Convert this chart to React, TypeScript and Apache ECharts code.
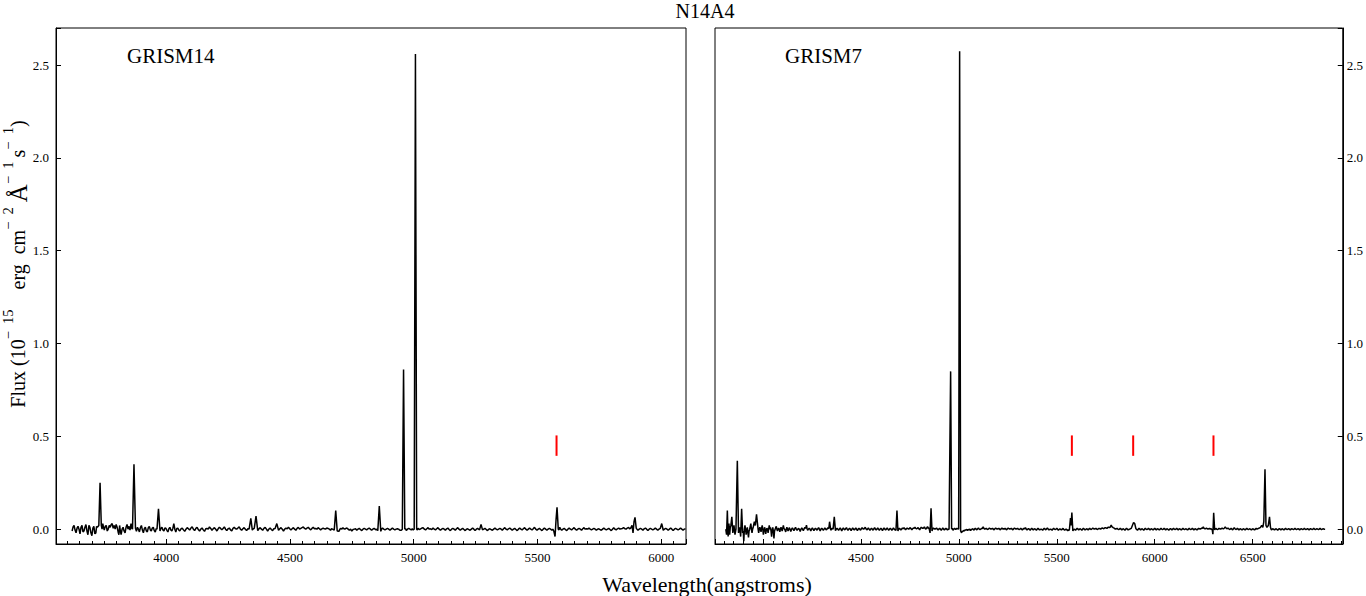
import React, { useEffect, useRef } from "react";
import * as echarts from "echarts";

const FONT = '"Liberation Serif", "Times New Roman", Times, serif';

const titleText = "N14A4";
const panelNames = ["GRISM14", "GRISM7"];
const xAxisTitle = "Wavelength(angstroms)";

const xRanges = [
  [3555, 6100],
  [3755, 6960],
];
const yRange = [-0.08, 2.7];
const xStep = 500;
const yStep = 0.5;

// GRISM14 spectrum  [wavelength (Å), flux (1e-15 erg cm^-2 Å^-1 s^-1)]
const g14Blue = [
  [3620, -0.01], [3624, 0.012], [3628, 0.02], [3632, -0.005], [3636, -0.02], [3640, 0.005],
  [3644, 0.015], [3648, 0.0], [3652, -0.025], [3656, 0.01], [3660, 0.02], [3664, -0.015],
  [3668, -0.01], [3672, 0.01], [3676, 0.025], [3680, -0.01], [3684, -0.03], [3688, 0.02],
  [3692, 0.01], [3696, -0.02], [3700, -0.035], [3704, 0.005], [3708, 0.015], [3712, -0.025],
  [3716, -0.02], [3719, 0.015], [3722, 0.01], [3728, 0.02], [3733, 0.25], [3738, 0.02],
  [3741, 0.0], [3744, 0.03], [3747, 0.01], [3750, -0.005], [3754, 0.015], [3758, 0.02],
  [3762, -0.01], [3766, 0.0], [3770, 0.02], [3774, 0.01], [3778, 0.025], [3782, 0.03],
  [3786, 0.005], [3790, 0.02], [3794, 0.0], [3798, 0.025], [3802, 0.01], [3806, -0.015],
  [3809, -0.03], [3812, 0.02], [3815, -0.01], [3818, -0.03], [3822, 0.0], [3826, 0.01],
  [3830, -0.01], [3834, -0.02], [3838, 0.01], [3842, 0.025], [3846, 0.0], [3850, 0.015],
  [3854, -0.005], [3858, 0.03], [3861, 0.005], [3864, 0.0], [3870, 0.35], [3876, 0.005],
  [3880, -0.012], [3884, 0.01], [3888, 0.0], [3892, -0.015], [3896, 0.008], [3900, 0.02],
  [3904, -0.005], [3908, -0.02], [3912, 0.004], [3916, 0.01], [3920, -0.01], [3924, -0.015],
  [3928, 0.008], [3932, 0.015], [3936, -0.004], [3940, -0.01], [3944, 0.006], [3948, 0.01],
  [3952, -0.008], [3956, -0.015], [3960, 0.004], [3963, 0.0], [3969, 0.11], [3975, -0.01],
  [3979, 0.004], [3983, 0.01], [3987, -0.004], [3991, -0.01], [3995, 0.006], [3999, 0.005],
  [4003, -0.006], [4007, -0.015], [4011, 0.002], [4015, 0.01], [4019, -0.004], [4023, -0.01],
  [4027, 0.004], [4031, 0.03], [4035, 0.0], [4039, -0.015], [4043, 0.004], [4047, 0.005],
];
const g14Mid = [
  [4051, -0.004], [4055, -0.01], [4060, 0.002], [4065, 0.005], [4070, -0.004], [4075, -0.012],
  [4080, 0.0], [4085, 0.008], [4090, 0.002], [4095, -0.005], [4100, 0.006], [4105, 0.012],
  [4110, 0.0], [4115, -0.008], [4120, 0.004], [4125, 0.01], [4130, -0.002], [4135, -0.01],
  [4140, 0.0], [4145, 0.006], [4150, -0.004], [4155, -0.012], [4160, 0.002], [4165, 0.004],
  [4170, 0.0], [4175, 0.012], [4180, 0.004], [4185, -0.006], [4190, 0.002], [4195, 0.008],
  [4200, 0.0], [4205, -0.01], [4210, 0.002], [4215, 0.01], [4220, 0.004], [4225, -0.004],
  [4230, 0.004], [4235, 0.012], [4240, 0.0], [4245, -0.008], [4250, 0.002], [4255, 0.006],
  [4260, -0.004], [4265, -0.01], [4270, 0.004], [4275, 0.01], [4280, 0.002], [4285, 0.0],
  [4290, 0.006], [4295, 0.012], [4300, 0.0], [4305, -0.006], [4310, 0.002], [4315, 0.008],
  [4320, 0.0], [4325, -0.008], [4330, 0.002], [4335, 0.0], [4342, 0.058], [4348, -0.005],
  [4352, 0.002], [4356, 0.005], [4363, 0.07], [4370, -0.008], [4375, 0.002], [4380, 0.008],
  [4385, 0.0], [4390, -0.006], [4395, 0.004], [4400, 0.01], [4405, 0.0], [4410, -0.01],
  [4415, 0.0], [4420, 0.006], [4425, -0.002], [4430, -0.008], [4435, 0.002], [4440, 0.004],
  [4447, 0.03], [4454, -0.006], [4459, 0.002], [4464, 0.008], [4469, 0.0], [4474, -0.01],
  [4479, 0.0], [4484, 0.006], [4489, 0.002], [4494, 0.01], [4499, 0.002], [4504, -0.004],
  [4509, 0.002], [4514, 0.008], [4519, 0.0], [4524, -0.006], [4529, 0.004], [4534, 0.01],
  [4539, 0.0], [4544, 0.004], [4549, 0.008], [4554, 0.012], [4559, 0.004], [4564, 0.0],
  [4569, 0.006], [4574, 0.01], [4579, 0.002], [4584, -0.004], [4589, 0.004], [4594, 0.01],
  [4599, 0.002], [4604, 0.004], [4609, 0.0], [4614, 0.008], [4619, 0.002], [4624, -0.004],
  [4629, 0.002], [4634, 0.006], [4639, 0.002], [4644, 0.0], [4649, 0.006], [4654, 0.004],
  [4659, 0.0], [4664, -0.006], [4668, 0.002], [4672, 0.0], [4679, -0.005], [4685, 0.1],
  [4691, -0.01], [4698, -0.012], [4702, 0.0], [4706, 0.004], [4710, 0.0], [4714, 0.008],
  [4718, 0.002], [4722, 0.0], [4726, 0.004], [4730, 0.006], [4735, 0.0], [4740, -0.006],
  [4745, 0.0], [4750, -0.01], [4755, -0.002], [4760, 0.0], [4765, 0.002], [4770, -0.006],
  [4775, 0.0], [4780, 0.004], [4785, -0.002], [4790, -0.008], [4795, 0.0], [4800, 0.004],
  [4805, 0.0], [4810, -0.004], [4815, 0.002], [4820, 0.006], [4825, 0.0], [4830, -0.006],
  [4835, 0.0], [4840, 0.004], [4844, 0.0], [4848, -0.004], [4852, 0.0], [4855, -0.008],
  [4861, 0.124], [4867, -0.012], [4870, 0.0], [4874, 0.006], [4879, 0.0], [4884, -0.004],
  [4889, 0.0], [4894, 0.004], [4899, 0.0], [4904, -0.006], [4909, 0.0], [4914, 0.006],
  [4919, 0.0], [4924, -0.004], [4929, 0.0], [4934, 0.002], [4939, 0.0], [4944, -0.006],
  [4950, -0.006], [4954, 0.0], [4959, 0.86], [4964, 0.0], [4967, 0.004], [4970, -0.008],
  [4975, 0.0], [4980, 0.004], [4985, 0.0], [4990, -0.004], [4994, 0.002], [4998, -0.004],
  [5002, 0.0], [5007, 2.56], [5012, 0.0], [5015, -0.004], [5018, 0.004], [5023, -0.002],
  [5028, 0.002], [5033, 0.006], [5038, 0.008], [5043, 0.0], [5048, -0.004],
];
const g14Red = [
  [5053, 0.002], [5058, 0.008], [5063, 0.0], [5068, 0.002], [5073, -0.002], [5078, 0.006],
  [5083, 0.0], [5088, -0.004], [5093, 0.002], [5098, 0.008], [5103, 0.0], [5108, -0.006],
  [5113, 0.0], [5118, 0.004], [5123, 0.0], [5128, -0.006], [5133, 0.002], [5138, 0.006],
  [5143, -0.002], [5148, -0.008], [5153, 0.0], [5158, 0.004], [5163, 0.0], [5168, -0.006],
  [5173, 0.002], [5178, 0.008], [5183, 0.0], [5188, -0.006], [5193, 0.0], [5198, 0.004],
  [5203, -0.002], [5208, -0.008], [5213, 0.0], [5218, 0.002], [5223, -0.002], [5228, -0.006],
  [5233, 0.0], [5238, 0.006], [5243, 0.0], [5248, -0.008], [5253, 0.0], [5258, 0.004],
  [5262, 0.0], [5266, -0.004], [5272, 0.026], [5278, -0.004], [5283, 0.0], [5288, 0.004],
  [5293, -0.002], [5298, -0.008], [5303, 0.0], [5308, 0.002], [5313, -0.002], [5318, -0.006],
  [5323, 0.0], [5328, 0.006], [5333, 0.0], [5338, -0.004], [5343, 0.0], [5348, 0.004],
  [5353, 0.0], [5358, -0.006], [5363, 0.002], [5368, 0.008], [5373, 0.0], [5378, -0.004],
  [5383, 0.002], [5388, 0.006], [5393, 0.0], [5398, -0.006], [5403, 0.0], [5408, 0.004],
  [5413, -0.002], [5418, -0.008], [5423, 0.0], [5428, 0.006], [5433, 0.0], [5438, -0.004],
  [5443, 0.002], [5448, 0.008], [5453, 0.0], [5458, -0.006], [5463, 0.0], [5468, 0.006],
  [5473, 0.0], [5478, -0.004], [5483, 0.002], [5488, 0.01], [5493, 0.0], [5498, -0.006],
  [5503, 0.0], [5508, 0.004], [5513, -0.002], [5518, -0.008], [5523, 0.0], [5528, 0.006],
  [5533, 0.0], [5538, -0.006], [5543, 0.0], [5548, 0.004], [5553, 0.0], [5558, -0.006],
  [5562, 0.0], [5566, -0.01], [5571, -0.04], [5575, 0.05], [5579, 0.118], [5584, 0.0],
  [5587, -0.004], [5590, 0.01], [5594, 0.0], [5598, -0.006], [5603, 0.0], [5608, 0.004],
  [5613, -0.002], [5618, -0.008], [5623, 0.0], [5628, 0.006], [5633, 0.0], [5638, -0.004],
  [5643, 0.002], [5648, 0.008], [5653, 0.0], [5658, -0.006], [5663, 0.0], [5668, 0.004],
  [5673, 0.0], [5678, -0.006], [5683, 0.002], [5688, 0.008], [5693, 0.0], [5698, 0.002],
  [5703, 0.0], [5708, 0.006], [5713, 0.0], [5718, -0.004], [5723, 0.0], [5728, 0.004],
  [5733, 0.0], [5738, -0.006], [5743, 0.0], [5748, 0.002], [5753, -0.002], [5758, -0.006],
  [5763, 0.0], [5768, 0.006], [5773, 0.0], [5778, -0.004], [5783, 0.0], [5788, 0.004],
  [5793, -0.002], [5798, -0.008], [5803, 0.0], [5808, 0.008], [5813, 0.0], [5818, -0.004],
  [5823, 0.002], [5828, 0.006], [5833, 0.0], [5838, 0.002], [5843, 0.004], [5848, 0.008],
  [5853, 0.002], [5858, 0.0], [5863, 0.006], [5868, 0.01], [5872, 0.002], [5876, 0.004],
  [5882, 0.02], [5886, -0.02], [5890, 0.04], [5894, 0.063], [5899, 0.005], [5902, 0.0],
  [5906, -0.006], [5911, 0.0], [5916, 0.004], [5921, 0.0], [5926, -0.006], [5931, 0.002],
  [5936, 0.006], [5941, 0.0], [5946, -0.008], [5951, 0.0], [5956, 0.004], [5961, 0.0],
  [5966, -0.004], [5971, 0.0], [5976, 0.006], [5981, 0.0], [5986, -0.006], [5991, 0.0],
  [5996, 0.004], [6002, 0.03], [6008, -0.006], [6013, 0.0], [6018, 0.004], [6023, 0.0],
  [6028, -0.006], [6033, 0.0], [6038, 0.006], [6043, 0.0], [6048, -0.008], [6053, 0.0],
  [6058, 0.004], [6063, 0.0], [6068, -0.004], [6073, 0.0], [6078, 0.006], [6083, 0.0],
  [6088, -0.006], [6093, 0.0], [6098, 0.002],
];

// GRISM7 spectrum
const g7Blue = [
  [3810, 0.0], [3814, -0.03], [3818, 0.1], [3822, -0.04], [3826, 0.03], [3830, -0.03],
  [3833, 0.01], [3836, 0.02], [3841, 0.066], [3846, -0.02], [3849, 0.0], [3852, 0.02],
  [3857, -0.03], [3862, 0.0], [3869, 0.368], [3875, -0.02], [3880, 0.01], [3883, -0.01],
  [3886, -0.04], [3891, 0.11], [3896, -0.02], [3899, -0.01], [3902, -0.065], [3905, 0.0],
  [3908, 0.02], [3911, 0.0], [3914, -0.03], [3917, -0.005], [3920, 0.01], [3923, -0.02],
  [3926, -0.045], [3929, -0.01], [3932, 0.0], [3935, 0.015], [3938, 0.03], [3941, 0.0],
  [3944, -0.02], [3947, 0.0], [3950, 0.01], [3953, 0.025], [3956, 0.04], [3961, 0.02],
  [3967, 0.08], [3972, 0.03], [3975, 0.0], [3978, -0.02], [3981, 0.0], [3984, 0.01],
  [3987, 0.0], [3990, -0.015], [3993, 0.005], [3996, 0.02], [3999, 0.0], [4002, -0.03],
  [4005, -0.01], [4008, 0.01], [4011, 0.0], [4014, -0.025], [4017, -0.005], [4020, 0.005],
  [4023, 0.0], [4026, -0.02], [4029, 0.0], [4032, 0.02], [4035, 0.0], [4038, 0.01],
  [4041, -0.01], [4044, -0.04], [4047, -0.005], [4050, 0.01], [4053, -0.01], [4056, -0.05],
  [4059, -0.01], [4062, 0.0], [4065, 0.008], [4068, 0.015], [4071, 0.0], [4074, -0.01],
  [4077, 0.0], [4080, 0.005], [4083, 0.0], [4086, -0.015], [4089, 0.0], [4092, 0.01],
  [4095, 0.0], [4098, -0.01], [4101, 0.005], [4104, 0.02], [4107, 0.004], [4110, 0.0],
  [4113, -0.006], [4116, -0.015], [4119, 0.0], [4122, 0.01], [4125, 0.0], [4128, -0.01],
];
const g7Mid = [
  [4131, 0.0], [4134, 0.008], [4138, 0.0], [4142, -0.012], [4146, 0.0], [4150, 0.006],
  [4154, 0.0], [4158, -0.008], [4162, 0.002], [4166, 0.01], [4170, 0.0], [4174, -0.006],
  [4178, 0.0], [4182, 0.004], [4186, -0.002], [4190, -0.012], [4194, 0.0], [4198, 0.006],
  [4202, 0.0], [4206, -0.008], [4210, 0.002], [4214, 0.01], [4218, 0.004], [4222, 0.022],
  [4225, 0.004], [4228, -0.006], [4232, 0.0], [4236, 0.004], [4240, 0.0], [4244, -0.01],
  [4248, 0.0], [4252, 0.006], [4256, 0.0], [4260, -0.008], [4264, 0.0], [4268, 0.004],
  [4272, 0.0], [4276, -0.006], [4280, 0.002], [4284, 0.008], [4288, 0.0], [4292, -0.01],
  [4296, 0.0], [4300, 0.004], [4304, 0.0], [4308, -0.006], [4312, 0.0], [4316, 0.006],
  [4320, 0.0], [4324, -0.004], [4328, 0.002], [4332, 0.008], [4336, 0.002], [4340, 0.04],
  [4346, -0.006], [4352, 0.004], [4358, 0.0], [4364, 0.066], [4370, -0.008], [4374, 0.0],
  [4378, 0.004], [4382, 0.0], [4386, -0.006], [4390, 0.0], [4394, 0.006], [4398, 0.0],
  [4402, -0.01], [4406, 0.0], [4410, 0.006], [4414, 0.0], [4418, -0.004], [4422, 0.002],
  [4426, 0.008], [4430, 0.0], [4434, -0.006], [4438, 0.0], [4442, 0.004], [4446, 0.0],
  [4450, -0.008], [4454, 0.0], [4458, 0.006], [4462, 0.0], [4466, -0.004], [4470, 0.0],
  [4474, 0.006], [4478, 0.0], [4482, -0.008], [4486, 0.0], [4490, 0.004], [4494, 0.0],
  [4498, -0.006], [4502, 0.002], [4506, 0.008], [4510, 0.002], [4514, 0.0], [4518, 0.004],
  [4522, 0.01], [4526, 0.002], [4530, -0.004], [4534, 0.0], [4538, 0.006], [4542, 0.0],
  [4546, -0.006], [4550, 0.0], [4554, 0.004], [4558, 0.0], [4562, -0.006], [4566, 0.002],
  [4570, 0.008], [4574, 0.0], [4578, -0.004], [4582, 0.0], [4586, 0.006], [4590, 0.0],
  [4594, -0.006], [4598, 0.0], [4602, 0.004], [4606, 0.0], [4610, -0.008], [4614, 0.0],
  [4618, 0.006], [4622, 0.0], [4626, -0.004], [4630, 0.0], [4634, 0.006], [4638, 0.0],
  [4642, -0.006], [4646, 0.0], [4650, 0.004], [4654, 0.0], [4658, -0.006], [4662, 0.0],
  [4666, 0.006], [4670, 0.0], [4674, -0.004], [4679, -0.006], [4684, 0.1], [4689, -0.01],
  [4692, 0.0], [4696, 0.004], [4700, 0.0], [4704, -0.004], [4708, 0.0], [4712, 0.006],
  [4716, 0.002], [4720, 0.008], [4724, 0.002], [4728, -0.004], [4732, 0.002], [4736, 0.006],
  [4740, 0.002], [4744, 0.0], [4748, 0.004], [4752, 0.008], [4756, 0.002], [4760, -0.004],
  [4764, 0.002], [4768, 0.006], [4772, 0.004], [4776, 0.01], [4780, 0.004], [4784, 0.002],
  [4788, 0.004], [4792, 0.008], [4796, 0.002], [4800, -0.004], [4804, 0.004], [4808, 0.01],
  [4812, 0.006], [4816, 0.004], [4820, 0.006], [4824, 0.012], [4828, 0.004], [4832, 0.0],
  [4836, 0.006], [4840, 0.014], [4844, 0.004], [4848, 0.006], [4853, -0.02], [4858, 0.113],
  [4863, -0.01], [4866, 0.0], [4870, 0.006], [4874, 0.002], [4878, 0.0], [4882, 0.002],
  [4886, 0.006], [4890, 0.0], [4894, -0.004], [4898, 0.0], [4902, 0.004], [4906, 0.0],
  [4910, -0.006], [4914, 0.0], [4918, 0.006], [4922, 0.0], [4926, -0.004], [4930, 0.0],
  [4934, 0.004], [4938, 0.0], [4942, -0.004], [4946, 0.0], [4950, 0.0], [4953, 0.0],
  [4958, 0.85], [4963, 0.0], [4966, 0.004], [4970, -0.006], [4974, 0.0], [4978, 0.004],
  [4982, 0.0], [4986, 0.0], [4990, 0.004], [4994, 0.002], [4999, 0.0], [5004, 2.575],
  [5009, -0.01], [5014, -0.02], [5017, -0.01], [5020, -0.014], [5024, -0.006], [5028, -0.01],
  [5032, -0.004], [5036, -0.004], [5040, -0.002], [5044, -0.008], [5048, -0.002], [5052, -0.004],
  [5056, 0.0], [5060, -0.008], [5064, -0.002], [5068, 0.0], [5072, 0.002], [5076, -0.006],
  [5080, 0.0], [5084, 0.004], [5088, 0.0], [5092, -0.004], [5096, 0.002], [5100, 0.006],
  [5104, 0.0], [5108, -0.002], [5112, 0.0], [5116, 0.004], [5120, 0.004], [5124, 0.012],
  [5128, 0.004], [5132, 0.0], [5136, 0.002], [5140, 0.004], [5144, 0.0], [5148, -0.002],
  [5152, 0.002], [5156, 0.006], [5160, 0.002], [5164, 0.0], [5168, 0.002], [5172, 0.004],
  [5176, 0.0], [5180, -0.004], [5184, 0.002], [5188, 0.006], [5192, 0.002], [5196, 0.0],
  [5200, 0.002], [5204, 0.004], [5208, 0.0], [5212, -0.004], [5216, 0.002], [5220, 0.006],
  [5224, 0.0], [5228, 0.002], [5232, 0.0], [5236, 0.004], [5240, 0.0], [5244, -0.004],
  [5248, 0.002], [5252, 0.006], [5256, 0.002], [5260, 0.0], [5264, 0.002], [5268, 0.004],
  [5272, 0.0], [5276, -0.004], [5280, 0.002], [5284, 0.006], [5288, 0.002], [5292, 0.0],
  [5296, 0.002], [5300, 0.004], [5304, 0.0], [5308, -0.002], [5312, 0.0], [5316, 0.004],
  [5320, 0.0], [5324, -0.004], [5328, 0.0], [5332, 0.004], [5336, 0.002], [5340, 0.008],
  [5344, 0.0], [5348, -0.004], [5352, 0.0], [5356, 0.002], [5360, 0.0], [5364, -0.006],
  [5368, 0.0], [5372, 0.004], [5376, 0.0], [5380, -0.004], [5384, 0.0], [5388, 0.002],
  [5392, -0.002], [5396, -0.006], [5400, 0.0], [5404, 0.004], [5408, 0.0], [5412, -0.004],
  [5416, -0.002], [5420, 0.0], [5424, -0.002], [5428, -0.006], [5432, 0.0], [5436, 0.004],
  [5440, 0.0], [5444, -0.004], [5448, 0.002], [5452, 0.006], [5456, 0.0], [5460, -0.004],
  [5464, -0.002], [5468, 0.0], [5472, -0.002], [5476, -0.006], [5480, 0.0], [5484, 0.004],
  [5488, 0.0], [5492, -0.002], [5496, 0.0], [5500, 0.004], [5504, 0.0], [5508, -0.006],
  [5512, -0.002], [5516, 0.002], [5520, -0.002], [5524, -0.004], [5528, 0.0], [5532, 0.004],
  [5536, -0.002], [5540, -0.006], [5544, -0.002], [5548, 0.0], [5552, -0.004], [5556, -0.008],
];
const g7Red = [
  [5560, -0.004], [5564, -0.006], [5570, 0.06], [5573, 0.02], [5577, 0.09], [5582, -0.01],
  [5585, -0.004], [5588, 0.0], [5592, -0.002], [5596, -0.006], [5600, 0.0], [5604, 0.004],
  [5608, 0.0], [5612, -0.004], [5616, 0.0], [5620, 0.002], [5624, -0.002], [5628, -0.006],
  [5632, 0.0], [5636, 0.004], [5640, 0.0], [5644, -0.004], [5648, -0.002], [5652, 0.002],
  [5656, 0.0], [5660, -0.004], [5664, 0.0], [5668, 0.004], [5672, 0.0], [5676, -0.002],
  [5680, 0.002], [5684, 0.006], [5688, 0.002], [5692, 0.0], [5696, 0.002], [5700, 0.004],
  [5704, 0.0], [5708, -0.002], [5712, 0.002], [5716, 0.004], [5720, 0.002], [5724, 0.0],
  [5728, 0.004], [5732, 0.006], [5736, 0.004], [5740, 0.002], [5744, 0.006], [5748, 0.008],
  [5752, 0.006], [5756, 0.004], [5760, 0.008], [5764, 0.012], [5768, 0.008], [5772, 0.01],
  [5775, 0.016], [5778, 0.022], [5781, 0.014], [5784, 0.012], [5788, 0.008], [5792, 0.006],
  [5796, 0.002], [5800, 0.0], [5804, 0.002], [5808, 0.004], [5812, 0.0], [5816, -0.002],
  [5820, 0.0], [5824, 0.004], [5828, 0.0], [5832, -0.004], [5836, 0.0], [5840, 0.002],
  [5844, -0.002], [5848, -0.006], [5852, 0.0], [5856, 0.004], [5860, 0.0], [5864, -0.004],
  [5868, -0.002], [5872, 0.0], [5876, 0.002], [5880, 0.004], [5886, 0.02], [5892, 0.036],
  [5898, 0.03], [5904, 0.002], [5908, -0.002], [5912, -0.006], [5916, 0.0], [5920, 0.004],
  [5924, 0.0], [5928, -0.004], [5932, 0.0], [5936, 0.002], [5940, -0.002], [5944, -0.006],
  [5948, 0.0], [5952, 0.004], [5956, 0.0], [5960, -0.002], [5964, 0.0], [5968, 0.004],
  [5972, 0.0], [5976, -0.004], [5980, 0.0], [5984, 0.002], [5988, -0.002], [5992, -0.004],
  [5996, 0.0], [6000, 0.004], [6004, 0.0], [6008, -0.004], [6012, 0.0], [6016, 0.002],
  [6020, -0.002], [6024, -0.004], [6028, 0.0], [6032, 0.004], [6036, 0.0], [6040, -0.002],
  [6044, 0.0], [6048, 0.004], [6052, 0.0], [6056, -0.004], [6060, 0.0], [6064, 0.002],
  [6068, -0.002], [6072, -0.006], [6076, 0.0], [6080, 0.002], [6084, 0.0], [6088, -0.004],
  [6092, 0.0], [6096, 0.004], [6100, 0.0], [6104, -0.002], [6108, 0.0], [6112, 0.004],
  [6116, 0.0], [6120, -0.004], [6124, 0.0], [6128, 0.002], [6132, -0.002], [6136, -0.004],
  [6140, 0.0], [6144, 0.004], [6148, 0.0], [6152, -0.002], [6156, 0.0], [6160, 0.002],
  [6164, -0.002], [6168, -0.004], [6172, 0.0], [6176, 0.004], [6180, 0.0], [6184, -0.002],
  [6188, 0.0], [6192, 0.004], [6196, 0.0], [6200, -0.004], [6204, 0.0], [6208, 0.002],
  [6212, -0.002], [6216, -0.004], [6220, 0.0], [6224, 0.004], [6228, 0.002], [6232, 0.0],
  [6236, 0.002], [6240, 0.006], [6244, 0.004], [6248, 0.012], [6252, 0.004], [6256, 0.002],
  [6260, 0.002], [6264, 0.006], [6268, 0.002], [6272, 0.0], [6276, 0.002], [6280, 0.004],
  [6284, 0.0], [6288, 0.002], [6291, 0.0], [6294, -0.005], [6297, -0.027], [6301, 0.088],
  [6306, -0.004], [6309, 0.0], [6312, 0.004], [6316, 0.0], [6320, -0.002], [6324, 0.0],
  [6328, 0.004], [6332, 0.002], [6336, 0.0], [6340, 0.002], [6344, 0.006], [6348, 0.002],
  [6352, 0.002], [6356, 0.006], [6360, 0.012], [6363, 0.008], [6366, 0.004], [6370, 0.002],
  [6374, 0.006], [6378, 0.002], [6382, -0.002], [6386, 0.0], [6390, 0.004], [6394, 0.0],
  [6398, -0.004], [6402, 0.002], [6406, 0.008], [6410, 0.002], [6414, -0.002], [6418, 0.0],
  [6422, 0.004], [6426, 0.0], [6430, -0.004], [6434, 0.0], [6438, 0.002], [6442, -0.002],
  [6446, -0.004], [6450, 0.0], [6454, 0.002], [6458, -0.002], [6462, -0.004], [6466, 0.0],
  [6470, 0.004], [6474, 0.0], [6478, -0.002], [6482, 0.0], [6486, 0.002], [6490, -0.002],
  [6494, -0.004], [6498, 0.0], [6502, 0.002], [6506, -0.002], [6510, -0.004], [6514, 0.0],
  [6518, 0.004], [6522, 0.0], [6526, 0.002], [6530, 0.004], [6534, 0.006], [6537, 0.004],
  [6540, 0.01], [6543, 0.012], [6546, 0.02], [6549, 0.014], [6552, 0.01], [6557, 0.04],
  [6563, 0.323], [6568, 0.02], [6573, 0.01], [6576, 0.012], [6580, 0.02], [6586, 0.066],
  [6591, 0.01], [6594, 0.0], [6596, -0.004], [6600, 0.0], [6604, 0.002], [6608, -0.002],
  [6612, -0.004], [6616, 0.0], [6620, 0.002], [6624, -0.002], [6628, -0.006], [6632, 0.0],
  [6636, 0.002], [6640, 0.0], [6644, -0.004], [6648, 0.0], [6652, 0.002], [6656, -0.002],
  [6660, -0.004], [6664, 0.0], [6668, 0.004], [6672, 0.0], [6676, -0.002], [6680, 0.0],
  [6684, 0.002], [6688, 0.0], [6692, -0.004], [6696, 0.0], [6700, 0.002], [6704, 0.0],
  [6708, -0.002], [6712, 0.0], [6716, 0.004], [6720, 0.0], [6724, -0.002], [6728, 0.0],
  [6732, 0.002], [6736, 0.0], [6740, -0.004], [6744, 0.0], [6748, 0.002], [6752, 0.0],
  [6756, -0.002], [6760, 0.0], [6764, 0.004], [6768, 0.0], [6772, -0.002], [6776, 0.0],
  [6780, 0.002], [6784, 0.0], [6788, -0.004], [6792, 0.0], [6796, 0.002], [6800, 0.0],
  [6804, -0.002], [6808, 0.0], [6812, 0.004], [6816, 0.0], [6820, -0.002], [6824, 0.0],
  [6828, 0.002], [6832, 0.0], [6836, -0.002], [6840, 0.0], [6844, 0.004], [6848, 0.0],
  [6852, -0.002], [6856, 0.0], [6860, 0.002], [6865, 0.0], [6870, 0.0],
];

// red sky-line markers (wavelength) and their flux span
const markersG14 = [5577];
const markersG7 = [5577, 5890, 6300];
const markerSpan = [0.395, 0.505];

function xLabel(v: number) {
  return Math.abs(v % xStep) < 1e-6 ? String(Math.round(v)) : "";
}
function yLabel(v: number) {
  const k = v / yStep;
  return Math.abs(k - Math.round(k)) < 1e-6 ? (Math.round(k) * yStep).toFixed(1) : "";
}

export default function App() {
  const ref = useRef<HTMLDivElement>(null);

  useEffect(() => {
    if (!ref.current) return;
    const chart = echarts.init(ref.current, undefined, { renderer: "svg" });

    const grids = [
      { left: 56, top: 28, width: 630, height: 516 },
      { left: 715, top: 28, width: 630, height: 516 },
    ];

    const xAxes = xRanges.map((r, i) => ({
      type: "value",
      gridIndex: i,
      min: r[0],
      max: r[1],
      minInterval: xStep,
      maxInterval: xStep,
      axisLine: { show: true, onZero: false, lineStyle: { color: "#000", width: 1 } },
      axisTick: { show: true, inside: true, length: 5, lineStyle: { color: "#000", width: 1 } },
      minorTick: { show: true, splitNumber: 10, length: 3, lineStyle: { color: "#000", width: 1 } },
      axisLabel: {
        color: "#000",
        fontFamily: FONT,
        fontSize: 13,
        margin: 7,
        formatter: xLabel,
      },
      splitLine: { show: false },
      minorSplitLine: { show: false },
    }));

    const yAxes = [0, 1].map((i) => ({
      type: "value",
      gridIndex: i,
      position: i === 0 ? "left" : "right",
      min: yRange[0],
      max: yRange[1],
      minInterval: yStep,
      maxInterval: yStep,
      axisLine: { show: true, onZero: false, lineStyle: { color: "#000", width: 1 } },
      axisTick: { show: true, inside: true, length: 5, lineStyle: { color: "#000", width: 1 } },
      axisLabel: {
        color: "#000",
        fontFamily: FONT,
        fontSize: 13,
        margin: i === 0 ? 7 : 4,
        formatter: yLabel,
      },
      splitLine: { show: false },
    }));

    const spectra = [
      [...g14Blue, ...g14Mid, ...g14Red],
      [...g7Blue, ...g7Mid, ...g7Red],
    ];

    const series: any[] = spectra.map((d, i) => ({
      type: "line",
      xAxisIndex: i,
      yAxisIndex: i,
      data: d,
      symbol: "none",
      silent: true,
      lineStyle: { color: "#000", width: 1.5 },
      z: 2,
    }));

    [markersG14, markersG7].forEach((list, i) => {
      list.forEach((w) => {
        series.push({
          type: "line",
          xAxisIndex: i,
          yAxisIndex: i,
          data: [
            [w, markerSpan[0]],
            [w, markerSpan[1]],
          ],
          symbol: "none",
          silent: true,
          lineStyle: { color: "#ff0000", width: 2 },
          z: 3,
        });
      });
    });

    const nrm = { fontFamily: FONT, fontSize: 20, lineHeight: 36, verticalAlign: "middle", fill: "#000" };
    const sup = { fontFamily: FONT, fontSize: 14.5, lineHeight: 14, verticalAlign: "top", fill: "#000" };
    const ang = { fontFamily: FONT, fontSize: 25, lineHeight: 36, verticalAlign: "middle", fill: "#000" };

    const th = "\u2009";
    const en = "\u2002";
    const minus = "\u2212";
    const yTitle =
      "{n|Flux (10}" +
      `{s|${minus}${en}15}` +
      `{n|${en}${en}erg${en}cm}` +
      `{s|${minus}${en}2}` +
      `{a|${th}\u00c5}` +
      `{s|${minus}${en}1}` +
      `{n|${th}s}` +
      `{s|${minus}${en}1}` +
      "{n|)}";

    chart.setOption({
      animation: false,
      backgroundColor: "#fff",
      grid: grids.map((g) => ({
        ...g,
        show: true,
        borderColor: "#000",
        borderWidth: 1,
        backgroundColor: "transparent",
      })),
      xAxis: xAxes,
      yAxis: yAxes,
      series,
      graphic: [
        {
          type: "text",
          x: 705,
          y: 11,
          style: {
            text: titleText,
            fontFamily: FONT,
            fontSize: 20,
            fill: "#000",
            align: "center",
            verticalAlign: "middle",
          },
        },
        {
          type: "text",
          x: 127,
          y: 56,
          style: {
            text: panelNames[0],
            fontFamily: FONT,
            fontSize: 21,
            fill: "#000",
            align: "left",
            verticalAlign: "middle",
          },
        },
        {
          type: "text",
          x: 785,
          y: 56,
          style: {
            text: panelNames[1],
            fontFamily: FONT,
            fontSize: 21,
            fill: "#000",
            align: "left",
            verticalAlign: "middle",
          },
        },
        {
          type: "text",
          x: 707,
          y: 584,
          style: {
            text: xAxisTitle,
            fontFamily: FONT,
            fontSize: 22,
            fill: "#000",
            align: "center",
            verticalAlign: "middle",
          },
        },
        {
          type: "text",
          x: 18,
          y: 264,
          rotation: Math.PI / 2,
          style: {
            text: yTitle,
            align: "center",
            verticalAlign: "middle",
            rich: { n: nrm, s: sup, a: ang },
          },
        },
      ],
    });

    return () => {
      chart.dispose();
    };
  }, []);

  return (
    <div
      ref={ref}
      style={{ position: "absolute", left: 0, top: 0, width: 1366, height: 596, background: "#fff" }}
    />
  );
}
